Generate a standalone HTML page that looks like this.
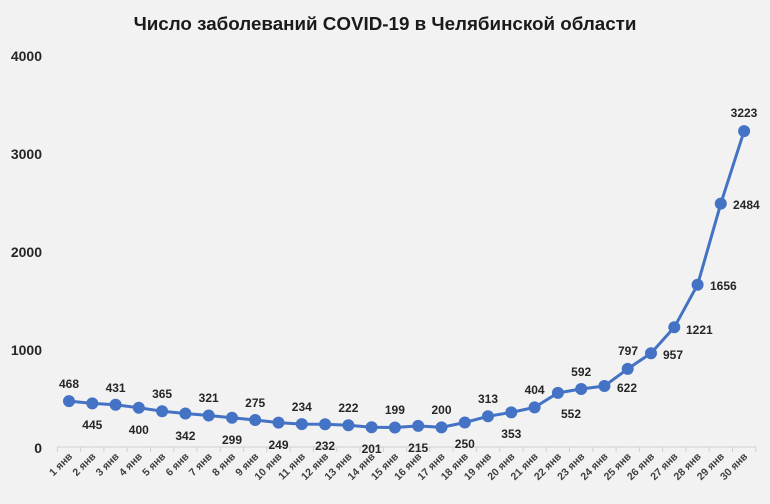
<!DOCTYPE html>
<html><head><meta charset="utf-8"><style>
body{margin:0;background:#f2f2f2;}
svg{display:block;font-family:"Liberation Sans","DejaVu Sans",sans-serif;}
.l{font-size:12px;font-weight:bold;fill:#262626;}
.y{font-size:14px;font-weight:bold;fill:#262626;}
.x{font-size:10.5px;font-weight:bold;fill:#404040;}
</style></head><body>
<svg width="770" height="504" viewBox="0 0 770 504">
<rect width="770" height="504" fill="#f2f2f2"/>
<text x="385" y="30" text-anchor="middle" font-size="18.8" font-weight="bold" fill="#1a1a1a">Число заболеваний COVID-19 в Челябинской области</text>
<g class="y" text-anchor="end">
<text x="42" y="61">4000</text>
<text x="42" y="159">3000</text>
<text x="42" y="257">2000</text>
<text x="42" y="355">1000</text>
<text x="42" y="453">0</text>
</g>
<line x1="57" y1="447" x2="756" y2="447" stroke="#d0d0d0" stroke-width="1"/>
<polyline fill="none" stroke="#4472c4" stroke-width="3" stroke-linejoin="round" points="69,401.1 92.3,403.4 115.6,404.8 138.8,407.8 162.1,411.2 185.4,413.5 208.7,415.5 232,417.7 255.2,420 278.5,422.6 301.8,424.1 325.1,424.3 348.4,425.2 371.6,427.3 394.9,427.5 418.2,425.9 441.5,427.4 464.8,422.5 488,416.3 511.3,412.4 534.6,407.4 557.9,392.9 581.2,389 604.4,386 627.7,368.9 651,353.2 674.3,327.3 697.6,284.7 720.8,203.6 744.1,131.1"/>
<g fill="#4472c4">
<circle cx="69" cy="401.1" r="6"/><circle cx="92.3" cy="403.4" r="6"/><circle cx="115.6" cy="404.8" r="6"/><circle cx="138.8" cy="407.8" r="6"/><circle cx="162.1" cy="411.2" r="6"/><circle cx="185.4" cy="413.5" r="6"/><circle cx="208.7" cy="415.5" r="6"/><circle cx="232" cy="417.7" r="6"/><circle cx="255.2" cy="420" r="6"/><circle cx="278.5" cy="422.6" r="6"/><circle cx="301.8" cy="424.1" r="6"/><circle cx="325.1" cy="424.3" r="6"/><circle cx="348.4" cy="425.2" r="6"/><circle cx="371.6" cy="427.3" r="6"/><circle cx="394.9" cy="427.5" r="6"/><circle cx="418.2" cy="425.9" r="6"/><circle cx="441.5" cy="427.4" r="6"/><circle cx="464.8" cy="422.5" r="6"/><circle cx="488" cy="416.3" r="6"/><circle cx="511.3" cy="412.4" r="6"/><circle cx="534.6" cy="407.4" r="6"/><circle cx="557.9" cy="392.9" r="6"/><circle cx="581.2" cy="389" r="6"/><circle cx="604.4" cy="386" r="6"/><circle cx="627.7" cy="368.9" r="6"/><circle cx="651" cy="353.2" r="6"/><circle cx="674.3" cy="327.3" r="6"/><circle cx="697.6" cy="284.7" r="6"/><circle cx="720.8" cy="203.6" r="6"/><circle cx="744.1" cy="131.1" r="6"/>
</g>
<g class="l" text-anchor="middle">
<text x="69" y="388">468</text>
<text x="92.3" y="429">445</text>
<text x="115.6" y="392">431</text>
<text x="138.8" y="434">400</text>
<text x="162.1" y="398">365</text>
<text x="185.4" y="440">342</text>
<text x="208.7" y="402">321</text>
<text x="232" y="444">299</text>
<text x="255.2" y="407">275</text>
<text x="278.5" y="449">249</text>
<text x="301.8" y="411">234</text>
<text x="325.1" y="450">232</text>
<text x="348.4" y="412">222</text>
<text x="371.6" y="453">201</text>
<text x="394.9" y="414">199</text>
<text x="418.2" y="452">215</text>
<text x="441.5" y="414">200</text>
<text x="464.8" y="448">250</text>
<text x="488" y="403">313</text>
<text x="511.3" y="438">353</text>
<text x="534.6" y="394">404</text>
<text x="571" y="418">552</text>
<text x="581.2" y="376">592</text>
<text x="617" y="392" text-anchor="start">622</text>
<text x="628" y="355">797</text>
<text x="663" y="359" text-anchor="start">957</text>
<text x="686" y="334" text-anchor="start">1221</text>
<text x="710" y="290" text-anchor="start">1656</text>
<text x="733" y="209" text-anchor="start">2484</text>
<text x="744" y="117">3223</text>
</g>
<g stroke="#d0d0d0" stroke-width="1">
<line x1="57.4" y1="447" x2="57.4" y2="452"/><line x1="80.6" y1="447" x2="80.6" y2="452"/><line x1="103.9" y1="447" x2="103.9" y2="452"/><line x1="127.2" y1="447" x2="127.2" y2="452"/><line x1="150.5" y1="447" x2="150.5" y2="452"/><line x1="173.8" y1="447" x2="173.8" y2="452"/><line x1="197" y1="447" x2="197" y2="452"/><line x1="220.3" y1="447" x2="220.3" y2="452"/><line x1="243.6" y1="447" x2="243.6" y2="452"/><line x1="266.9" y1="447" x2="266.9" y2="452"/><line x1="290.2" y1="447" x2="290.2" y2="452"/><line x1="313.4" y1="447" x2="313.4" y2="452"/><line x1="336.7" y1="447" x2="336.7" y2="452"/><line x1="360" y1="447" x2="360" y2="452"/><line x1="383.3" y1="447" x2="383.3" y2="452"/><line x1="406.6" y1="447" x2="406.6" y2="452"/><line x1="429.8" y1="447" x2="429.8" y2="452"/><line x1="453.1" y1="447" x2="453.1" y2="452"/><line x1="476.4" y1="447" x2="476.4" y2="452"/><line x1="499.7" y1="447" x2="499.7" y2="452"/><line x1="523" y1="447" x2="523" y2="452"/><line x1="546.2" y1="447" x2="546.2" y2="452"/><line x1="569.5" y1="447" x2="569.5" y2="452"/><line x1="592.8" y1="447" x2="592.8" y2="452"/><line x1="616.1" y1="447" x2="616.1" y2="452"/><line x1="639.4" y1="447" x2="639.4" y2="452"/><line x1="662.6" y1="447" x2="662.6" y2="452"/><line x1="685.9" y1="447" x2="685.9" y2="452"/><line x1="709.2" y1="447" x2="709.2" y2="452"/><line x1="732.5" y1="447" x2="732.5" y2="452"/><line x1="755.8" y1="447" x2="755.8" y2="452"/>
</g>
<g class="x" text-anchor="end">
<text transform="translate(73,457) rotate(-45)">1 янв</text>
<text transform="translate(96.3,457) rotate(-45)">2 янв</text>
<text transform="translate(119.6,457) rotate(-45)">3 янв</text>
<text transform="translate(142.8,457) rotate(-45)">4 янв</text>
<text transform="translate(166.1,457) rotate(-45)">5 янв</text>
<text transform="translate(189.4,457) rotate(-45)">6 янв</text>
<text transform="translate(212.7,457) rotate(-45)">7 янв</text>
<text transform="translate(236,457) rotate(-45)">8 янв</text>
<text transform="translate(259.2,457) rotate(-45)">9 янв</text>
<text transform="translate(282.5,457) rotate(-45)">10 янв</text>
<text transform="translate(305.8,457) rotate(-45)">11 янв</text>
<text transform="translate(329.1,457) rotate(-45)">12 янв</text>
<text transform="translate(352.4,457) rotate(-45)">13 янв</text>
<text transform="translate(375.6,457) rotate(-45)">14 янв</text>
<text transform="translate(398.9,457) rotate(-45)">15 янв</text>
<text transform="translate(422.2,457) rotate(-45)">16 янв</text>
<text transform="translate(445.5,457) rotate(-45)">17 янв</text>
<text transform="translate(468.8,457) rotate(-45)">18 янв</text>
<text transform="translate(492,457) rotate(-45)">19 янв</text>
<text transform="translate(515.3,457) rotate(-45)">20 янв</text>
<text transform="translate(538.6,457) rotate(-45)">21 янв</text>
<text transform="translate(561.9,457) rotate(-45)">22 янв</text>
<text transform="translate(585.2,457) rotate(-45)">23 янв</text>
<text transform="translate(608.4,457) rotate(-45)">24 янв</text>
<text transform="translate(631.7,457) rotate(-45)">25 янв</text>
<text transform="translate(655,457) rotate(-45)">26 янв</text>
<text transform="translate(678.3,457) rotate(-45)">27 янв</text>
<text transform="translate(701.6,457) rotate(-45)">28 янв</text>
<text transform="translate(724.8,457) rotate(-45)">29 янв</text>
<text transform="translate(748.1,457) rotate(-45)">30 янв</text>
</g>
</svg>
</body></html>
